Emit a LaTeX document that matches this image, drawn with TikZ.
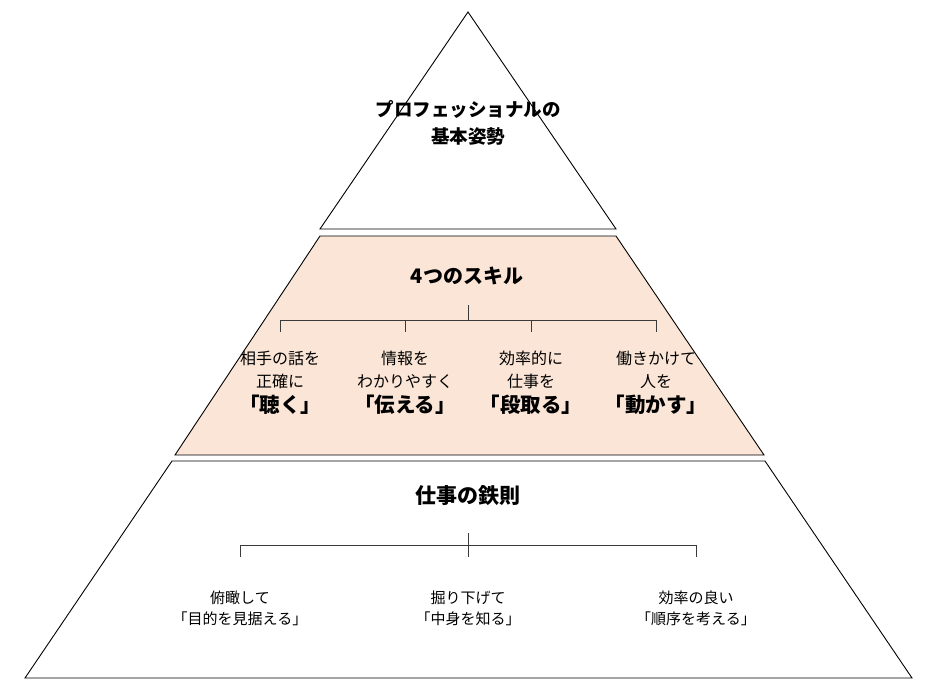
\documentclass[tikz,border=0pt]{standalone}
\usepackage{fontspec}
\setmainfont{Noto Sans CJK JP}
\definecolor{peach}{HTML}{FBE5D6}
\definecolor{treeline}{HTML}{3A3A3A}
\begin{document}
\begin{tikzpicture}[x=1pt,y=-1pt,
  layer/.style={draw=black,line width=0.9pt,line join=miter},
  tree/.style={draw=treeline,line width=0.9pt},
  head/.style={font=\fontsize{19}{23}\selectfont\bfseries,align=center,inner sep=0pt},
  small/.style={font=\fontsize{16}{23}\selectfont,align=center,inner sep=0pt},
  big/.style={font=\fontsize{20.5}{24}\selectfont\bfseries,inner sep=0pt},
  low/.style={font=\fontsize{15}{21.5}\selectfont,align=center,inner sep=0pt}]
\useasboundingbox (0,0) rectangle (930,685);
% layers
\draw[layer,fill=white] (468,12) -- (616,229) -- (320,229) -- cycle;
\draw[layer,fill=peach] (320,236) -- (616,236) -- (764,455) -- (175,455) -- cycle;
\draw[layer,fill=white] (172,461) -- (765,461) -- (912,678) -- (25,678) -- cycle;
% top
\node[head,font=\fontsize{18.5}{27}\selectfont\bfseries] (title) at (468,123) {プロフェッショナルの\\基本姿勢};
% middle
\node[head,font=\fontsize{20}{24}\selectfont\bfseries] (skills) at (467,276) {4つのスキル};
\coordinate (sroot) at (468,305);
\coordinate (sbar) at (468,320);
\coordinate (s1) at (280,332); \coordinate (s1t) at (280,320);
\coordinate (s2) at (405,332); \coordinate (s2t) at (405,320);
\coordinate (s3) at (531,332); \coordinate (s3t) at (531,320);
\coordinate (s4) at (656,332); \coordinate (s4t) at (656,320);
\draw[tree] (sroot) -- (sbar);
\draw[tree] (s1) -- (s1t) -- (s4t) -- (s4);
\draw[tree] (s2t) -- (s2);
\draw[tree] (s3t) -- (s3);
\node[small] (a1) at (280,369.5) {相手の話を\\正確に};
\node[small] (a2) at (405,369.5) {情報を\\わかりやすく};
\node[small] (a3) at (531,369.5) {効率的に\\仕事を};
\node[small] (a4) at (656,369.5) {働きかけて\\人を};
\node[big] (b1) at (280,405) {「聴く」};
\node[big] (b2) at (405,405) {「伝える」};
\node[big] (b3) at (531,405) {「段取る」};
\node[big] (b4) at (656,405) {「動かす」};
% bottom
\node[head,font=\fontsize{21}{25}\selectfont\bfseries] (rules) at (468,496) {仕事の鉄則};
\coordinate (rroot) at (468,533);
\coordinate (rbot) at (468,557);
\coordinate (r1) at (240,557); \coordinate (r1t) at (240,545);
\coordinate (r3) at (696,557); \coordinate (r3t) at (696,545);
\draw[tree] (rroot) -- (rbot);
\draw[tree] (r1) -- (r1t) -- (r3t) -- (r3);
\node[low] (c1) at (240,608.5) {俯瞰して\\「目的を見据える」};
\node[low] (c2) at (468,608.5) {掘り下げて\\「中身を知る」};
\node[low] (c3) at (696,608.5) {効率の良い\\「順序を考える」};
\end{tikzpicture}
\end{document}
